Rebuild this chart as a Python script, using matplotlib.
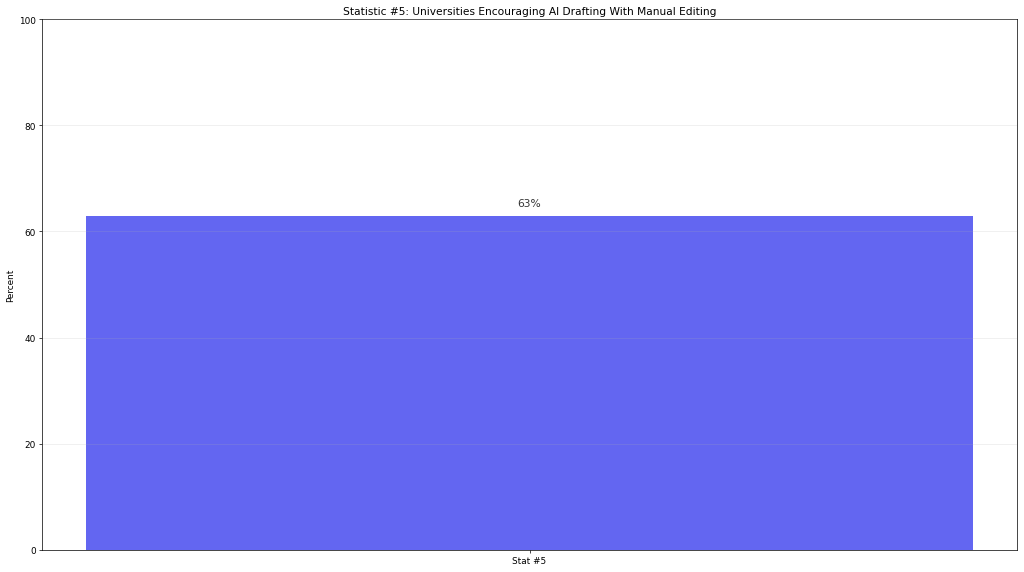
import matplotlib
matplotlib.use("Agg")
import matplotlib.pyplot as plt

categories = ["Stat #5"]
values = [63]
labels = ["63%"]

fig, ax = plt.subplots(figsize=(16, 8.953), dpi=64)
bars = ax.bar(categories, values, color="#6366f1", width=0.8)
ax.set_ylim(0, 100)
ax.set_ylabel("Percent", fontsize=10)
ax.set_title("Statistic #5: Universities Encouraging AI Drafting With Manual Editing", fontsize=12)
ax.tick_params(labelsize=10)
ax.yaxis.grid(True, alpha=0.25, linewidth=0.8)
ax.set_axisbelow(False)
for b, lab in zip(bars, labels):
    ax.annotate(lab, (b.get_x() + b.get_width() / 2, b.get_height()),
                xytext=(0, 8), textcoords="offset points", ha="center", va="bottom",
                fontsize=12, color="#333333")
fig.subplots_adjust(left=0.041, right=0.9932, top=0.965, bottom=0.0384)
fig.savefig("out.png", dpi=64)
